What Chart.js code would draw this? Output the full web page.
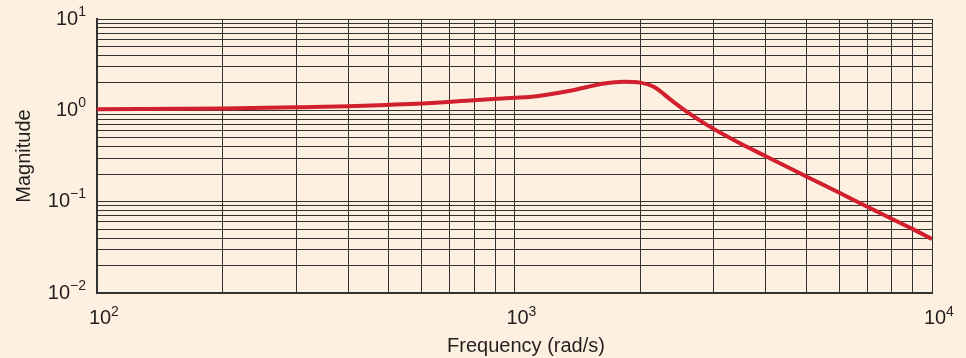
<!DOCTYPE html>
<html>
<head>
<meta charset="utf-8">
<script src="https://cdn.jsdelivr.net/npm/chart.js@4.4.0/dist/chart.umd.min.js"></script>
<style>
html, body { margin: 0; padding: 0; background: #fdf0e0; }
#wrap { width: 966px; height: 358px; }
</style>
</head>
<body>
<div id="wrap"><canvas id="myChart" width="966" height="358"></canvas></div>
<script>
// curve (rad/s, magnitude)
const frequencies = [100, 200, 300, 400, 500, 600, 800, 1000, 1130, 1360, 1640, 1830, 2000, 2160, 2370, 2600, 2850, 3130, 3430, 4000, 5000, 6000, 7000, 8000, 9000, 10000];
const magnitudes  = [1.03, 1.05, 1.08, 1.11, 1.15, 1.19, 1.29, 1.37, 1.43, 1.64, 1.97, 2.06, 2.01, 1.80, 1.30, 0.95, 0.72, 0.56, 0.447, 0.314, 0.189, 0.125, 0.088, 0.065, 0.050, 0.039];

// grid positions
const xGrid = [100, 200, 300, 400, 500, 600, 700, 800, 900, 1000, 2000, 3000, 4000, 5000, 6000, 7000, 8000, 9000, 10000];
const yGrid = [0.01, 0.02, 0.03, 0.04, 0.05, 0.06, 0.07, 0.08, 0.09, 0.1, 0.2, 0.3, 0.4, 0.5, 0.6, 0.7, 0.8, 0.9, 1, 2, 3, 4, 5, 6, 7, 8, 9, 10];

// labelled decades: value and exponent text
const xLabelValues = [100, 1000, 10000];
const xLabelExps = ["2", "3", "4"];
const yLabelValues = [10, 1, 0.1, 0.01];
const yLabelExps = ["1", "0", "\u22121", "\u22122"];

const xTitle = "Frequency (rad/s)";
const yTitle = "Magnitude";

const textColor = "#231f20";
const fontFamily = "'Liberation Sans', Arial, Helvetica, sans-serif";

const points = frequencies.map((f, i) => ({ x: f, y: magnitudes[i] }));

const labelPlugin = {
  id: "powerLabels",
  afterDraw(chart) {
    const ctx = chart.ctx;
    const xs = chart.scales.x;
    const ys = chart.scales.y;
    ctx.save();
    ctx.fillStyle = textColor;
    ctx.textBaseline = "alphabetic";

    // y axis labels, right aligned
    yLabelValues.forEach((v, i) => {
      const py = ys.getPixelForValue(v);
      ctx.font = "14px " + fontFamily;
      const ew = ctx.measureText(yLabelExps[i]).width;
      ctx.font = "20px " + fontFamily;
      const bw = ctx.measureText("10").width;
      const right = 86;
      const baseLine = py + 5.5;
      ctx.textAlign = "left";
      ctx.fillText("10", right - ew - bw, baseLine);
      ctx.font = "14px " + fontFamily;
      ctx.fillText(yLabelExps[i], right - ew, baseLine - 9);
    });

    // x axis labels
    xLabelValues.forEach((v, i) => {
      const px = xs.getPixelForValue(v);
      ctx.font = "20px " + fontFamily;
      const bw = ctx.measureText("10").width;
      const left = px + 3 - bw / 2;
      const baseLine = 323.5;
      ctx.textAlign = "left";
      ctx.fillText("10", left, baseLine);
      ctx.font = "14px " + fontFamily;
      ctx.fillText(xLabelExps[i], left + bw, baseLine - 8);
    });

    // axis titles
    ctx.font = "20px " + fontFamily;
    ctx.textAlign = "center";
    ctx.fillText(xTitle, 526, 352);

    ctx.translate(30, (chart.chartArea.top + chart.chartArea.bottom) / 2);
    ctx.rotate(-Math.PI / 2);
    ctx.fillText(yTitle, 0, 0);
    ctx.restore();
  }
};

const ctx = document.getElementById("myChart").getContext("2d");
const myChart = new Chart(ctx, {
  type: "line",
  data: {
    datasets: [{
      data: points,
      borderColor: "#d21f2e",
      borderWidth: 4,
      pointRadius: 0,
      fill: false,
      cubicInterpolationMode: "monotone"
    }]
  },
  options: {
    responsive: false,
    devicePixelRatio: 1,
    animation: false,
    layout: { padding: { left: 97, right: 34, top: 19, bottom: 65 } },
    plugins: { legend: { display: false }, tooltip: { enabled: false } },
    scales: {
      x: {
        type: "logarithmic",
        min: 100,
        max: 10000,
        afterBuildTicks: (scale) => { scale.ticks = xGrid.map(v => ({ value: v })); },
        ticks: { display: false, autoSkip: false },
        grid: { color: "#333333", lineWidth: 1, drawTicks: false },
        border: { color: "#333333", width: 2 }
      },
      y: {
        type: "logarithmic",
        min: 0.01,
        max: 10,
        afterBuildTicks: (scale) => { scale.ticks = yGrid.map(v => ({ value: v })); },
        ticks: { display: false, autoSkip: false },
        grid: { color: "#333333", lineWidth: 1, drawTicks: false },
        border: { color: "#333333", width: 2 }
      }
    }
  },
  plugins: [labelPlugin]
});
</script>
</body>
</html>
